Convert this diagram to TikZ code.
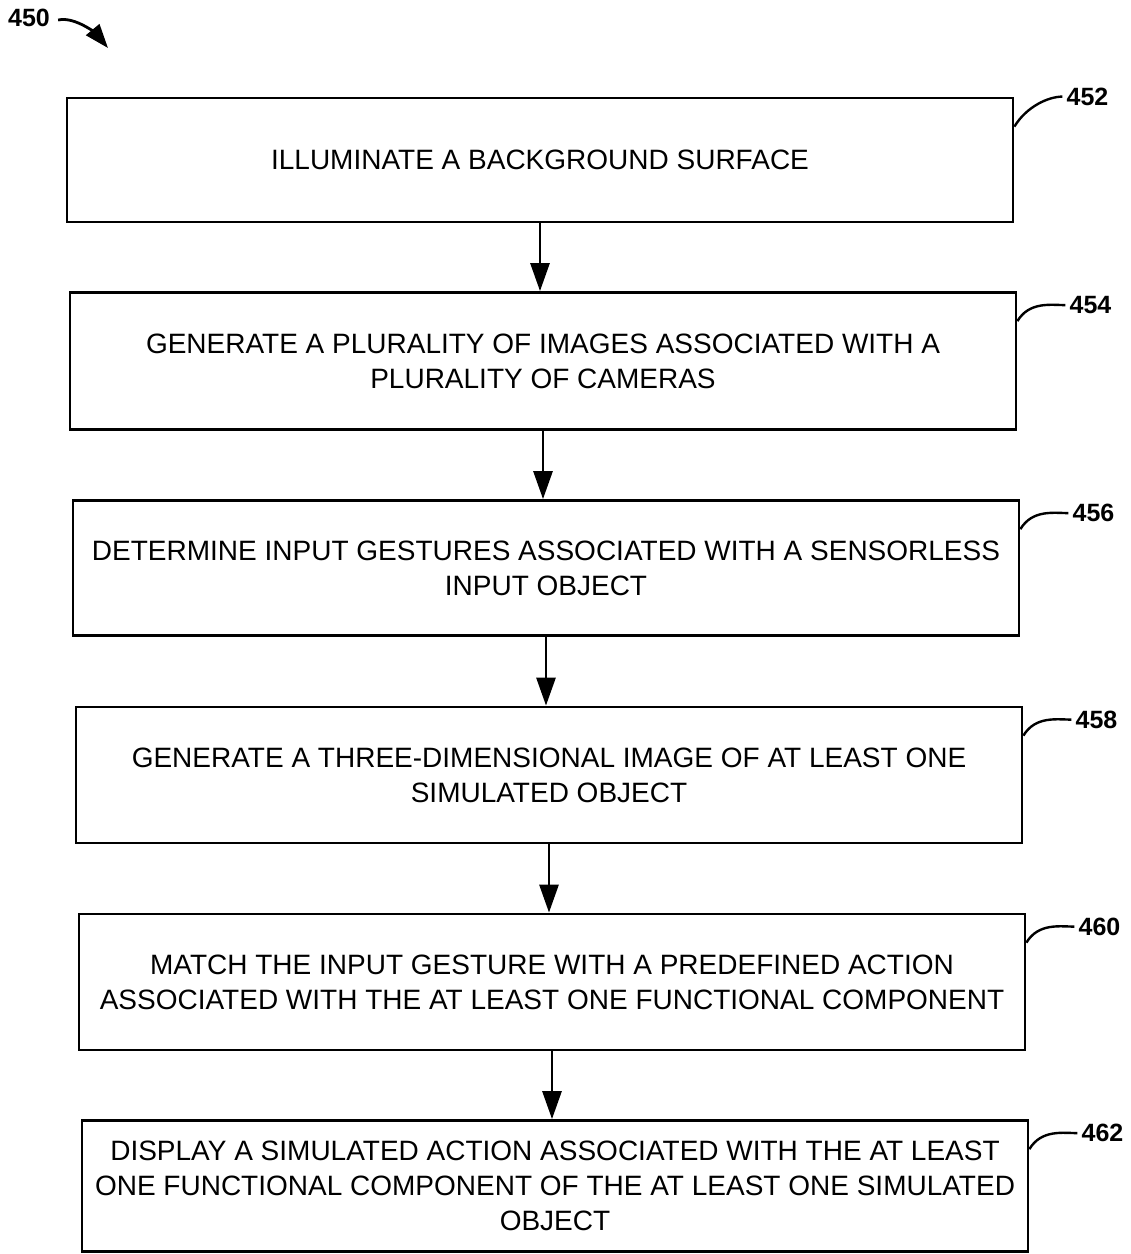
\documentclass[tikz,border=0pt]{standalone}
\usepackage{fontspec}
\setmainfont{Liberation Sans}
\usetikzlibrary{calc,arrows.meta}

\begin{document}
\begin{tikzpicture}[x=1pt,y=-1pt]
            \tikzstyle{stepbox}=[draw=black,line width=2.8pt,minimum width=946pt,align=center,inner sep=0pt,font=\fontsize{28}{35}\selectfont]
            \tikzstyle{flow}=[line width=2.8pt,-{Triangle[length=28pt,width=19pt]}]
            \tikzstyle{refnum}=[font=\fontsize{25}{25}\selectfont\bfseries,anchor=west,inner sep=0pt]
            \tikzstyle{leader}=[line width=2.4pt]
            \useasboundingbox (0,0) rectangle (1131,1254);
            \node[stepbox,minimum height=124pt] (s1) at (540,160) {ILLUMINATE A BACKGROUND SURFACE};
            \node[stepbox,minimum height=137pt] (s2) at (543,361) {GENERATE A PLURALITY OF IMAGES ASSOCIATED WITH A\\PLURALITY OF CAMERAS};
            \node[stepbox,minimum height=135pt] (s3) at (546,568) {DETERMINE INPUT GESTURES ASSOCIATED WITH A SENSORLESS\\INPUT OBJECT};
            \node[stepbox,minimum height=136pt] (s4) at (549,775) {GENERATE A THREE-DIMENSIONAL IMAGE OF AT LEAST ONE\\SIMULATED OBJECT};
            \node[stepbox,minimum height=136pt] (s5) at (552,982) {MATCH THE INPUT GESTURE WITH A PREDEFINED ACTION\\ASSOCIATED WITH THE AT LEAST ONE FUNCTIONAL COMPONENT};
            \node[stepbox,minimum height=131pt] (s6) at (555,1186) {DISPLAY A SIMULATED ACTION ASSOCIATED WITH THE AT LEAST\\ONE FUNCTIONAL COMPONENT OF THE AT LEAST ONE SIMULATED\\OBJECT};
            % arrows between steps
            \draw[flow] (s1.south) -- (s1.south |- s2.north);
            \draw[flow] (s2.south) -- (s2.south |- s3.north);
            \draw[flow] (s3.south) -- (s3.south |- s4.north);
            \draw[flow] (s4.south) -- (s4.south |- s5.north);
            \draw[flow] (s5.south) -- (s5.south |- s6.north);
            % reference numerals
            \node[refnum] (l1) at ($(s1.north east)+(52,0)$) {452};
            \node[refnum] (l2) at ($(s2.north east)+(52,14)$) {454};
            \node[refnum] (l3) at ($(s3.north east)+(52,14)$) {456};
            \node[refnum] (l4) at ($(s4.north east)+(52,14)$) {458};
            \node[refnum] (l5) at ($(s5.north east)+(52,14)$) {460};
            \node[refnum] (l6) at ($(s6.north east)+(52,14)$) {462};
            \foreach \n in {1,...,6}
              \draw[leader] ($(s\n.north east)+(0,30)$) .. controls +(12,-20) and +(-14,0) .. ($(l\n.west)+(-4,0)$);
            \node[refnum] (l0) at (8,18) {450};
            \coordinate (t0) at (108,48);
            \draw[line width=2.8pt,-{Triangle[length=24pt,width=17pt]}] ($(l0.east)+(8,2)$) .. controls +(18,-4) and +(-10,-12) .. (t0);
        \end{tikzpicture}
\end{document}
